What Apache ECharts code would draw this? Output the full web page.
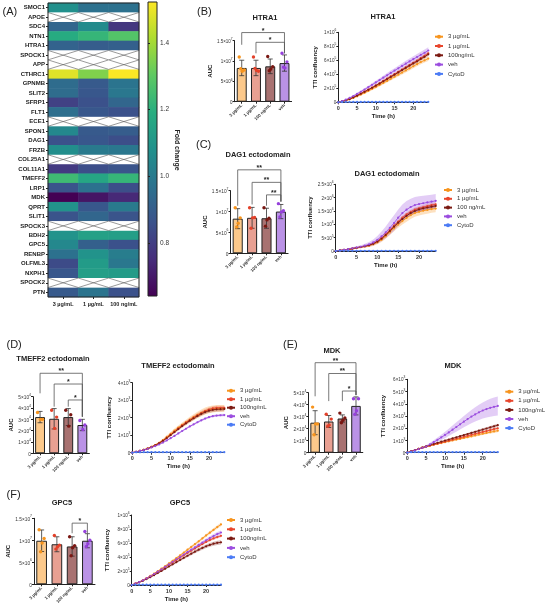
<!DOCTYPE html>
<html>
<head>
<meta charset="utf-8">
<script src="https://cdn.jsdelivr.net/npm/echarts@6/dist/echarts.min.js"></script>
<style>
html, body { margin: 0; padding: 0; background: #fff; }
#main { width: 546px; height: 609px; }
</style>
</head>
<body>
<div id="main"></div>
<script>
// ---- heatmap (A) ----
var geneNames = ['SMOC1','APOE','SDC4','NTN1','HTRA1','SPOCK1','APP','CTHRC1','GPNMB','SLIT2','SFRP1','FLT1','ECE1','SPON1','DAG1','FRZB','COL25A1','COL11A1','TMEFF2','LRP1','MDK','QPRT','SLIT1','SPOCK3','BDH2','GPC5','RENBP','OLFML3','NXPH1','SPOCK2','PTN'];
var doseLabels = ['3 µg/mL', '1 µg/mL', '100 ng/mL'];
var fold3ug   = [1.08, null, 0.93, 1.18, 0.92, null, null, 1.48, 0.95, 0.95, 0.81, 0.96, null, 1.05, 0.86, 1.07, null, 0.79, 1.24, 0.87, 0.64, 1.09, 0.87, null, 1.09, 1.05, 0.97, 0.84, 0.88, null, 0.89];
var fold1ug   = [0.97, null, 1.06, 1.22, 0.90, null, null, 1.35, 0.89, 0.88, 0.86, 0.88, null, 0.89, 0.88, 1.00, null, 0.85, 1.16, 0.97, 0.69, 0.88, 0.93, null, 1.14, 0.91, 1.09, 1.12, 1.13, null, 0.98];
var fold100ng = [0.97, null, 0.78, 1.28, 0.91, null, null, 1.52, 0.98, 0.99, 0.93, 0.86, null, 0.90, 0.85, 0.99, null, 0.87, 1.22, 0.85, 0.74, 1.00, 0.87, null, 1.13, 0.86, 1.01, 0.99, 1.12, null, 0.86];
var foldTicks = [0.8, 1.0, 1.2, 1.4];
var foldMin = 0.641, foldMax = 1.523;

// ---- bar charts (AUC) ----
var barGroups = ['3 µg/mL', '1 µg/mL', '100 ng/mL', 'veh'];
var bigAucTicks = ['0', '5×10⁶', '1×10⁷', '1.5×10⁷'];
var smallAucTicks = ['0', '1×10⁴', '2×10⁴', '3×10⁴', '4×10⁴', '5×10⁴'];

var htraMeans = [8.3, 8.3, 8.7, 9.5];
var htraSds = [1.9, 1.9, 1.8, 2.0];
var htraPts = [[11.0, 7.8, 7.5, 8.1], [11.0, 7.5, 7.7, 8.2], [11.1, 8.6, 8.0, 7.6], [11.9, 9.8, 8.3, 8.5]];
var htraSig = [[0, 3, 17.0, 14.0, 11.9], [1, 3, 14.6, 11.9, 11.9]];
var htraStars = ['*', '*'];

var dagMeans = [8.3, 8.5, 8.4, 10.0];
var dagSds = [2.4, 2.5, 2.4, 1.7];
var dagPts = [[10.9, 8.5, 7.2, 6.3], [10.9, 8.6, 8.5, 6.0], [10.9, 8.4, 8.0, 6.5], [11.9, 10.2, 9.9, 8.7]];
var dagSig = [[0, 3, 20.0, 11.4, 12.4], [1, 3, 17.0, 11.7, 12.4], [2, 3, 14.0, 11.4, 12.4]];
var dagStars = ['**', '**', '**'];

var tmeffMeans = [3.2, 3.05, 3.2, 2.5];
var tmeffSds = [0.5, 0.9, 0.75, 0.5];
var tmeffPts = [[3.6, 3.0, 3.0], [3.8, 3.2, 2.2], [3.8, 3.4, 2.4], [2.9, 2.5, 2.1]];
var tmeffSig = [[0, 3, 7.07, 5.3, 3.23], [1, 3, 6.12, 4.12, 3.23], [2, 3, 4.71, 4.12, 3.23]];
var tmeffStars = ['**', '*', '*'];

var mdkMeans = [2.5, 2.6, 2.85, 3.9];
var mdkSds = [1.0, 0.5, 0.3, 0.75];
var mdkPts = [[3.8, 2.4, 2.4, 1.5], [3.2, 2.8, 2.3, 2.2], [3.3, 2.9, 2.7, 2.5], [4.5, 4.5, 3.5, 3.2]];
var mdkSig = [[0, 3, 7.5, 4.7, 4.8], [1, 3, 6.6, 4.3, 4.8], [2, 3, 5.14, 4.3, 4.8]];
var mdkStars = ['**', '**', '*'];

var gpcMeans = [9.9, 9.1, 8.6, 9.9];
var gpcSds = [2.45, 1.7, 2.2, 1.6];
var gpcPts = [[12.4, 10.4, 9.4, 7.4], [11.1, 8.9, 8.5, 8.0], [10.8, 8.8, 8.3, 6.5], [12.0, 10.0, 9.2, 8.6]];
var gpcSig = [[2, 3, 13.9, 11.6, 11.6]];
var gpcStars = ['*'];

// ---- time courses (TTI confluency) ----
var hours = [0, 1, 2, 3, 4, 5, 6, 7, 8, 9, 10, 11, 12, 13, 14, 15, 16, 17, 18, 19, 20, 21, 22, 23, 24];
var timeTicks = [0, 5, 10, 15, 20];
var legendNames = ['3 µg/mL', '1 µg/mL', '100ng/mL', 'veh', 'CytoD'];
var legendNamesDag = ['3 µg/mL', '1 µg/mL', '100 ng/mL', 'veh', 'CytoD'];
var ttiTicksE5 = ['0', '2×10⁵', '4×10⁵', '6×10⁵', '8×10⁵', '1×10⁶'];
var ttiTicksDag = ['0', '5×10⁵', '1×10⁶', '1.5×10⁶', '2×10⁶', '2.5×10⁶'];
var ttiTicksTmeff = ['0', '1×10³', '2×10³', '3×10³', '4×10³'];
var ttiTicksMdk = ['0', '1×10³', '2×10³', '3×10³', '4×10³', '5×10³', '6×10³'];

var htra3ug = [0, 0.1, 0.24, 0.42, 0.63, 0.86, 1.1, 1.36, 1.62, 1.9, 2.18, 2.47, 2.76, 3.05, 3.35, 3.65, 3.95, 4.25, 4.55, 4.85, 5.15, 5.45, 5.75, 6.0, 6.25];
var htra3ugSd = [0, 0.04, 0.07, 0.09, 0.11, 0.13, 0.15, 0.16, 0.18, 0.19, 0.2, 0.21, 0.22, 0.23, 0.24, 0.25, 0.26, 0.27, 0.28, 0.29, 0.3, 0.31, 0.32, 0.33, 0.34];
var htra1ug = [0, 0.12, 0.28, 0.48, 0.72, 0.98, 1.25, 1.52, 1.8, 2.1, 2.4, 2.72, 3.05, 3.38, 3.7, 4.02, 4.35, 4.68, 5.0, 5.32, 5.65, 5.95, 6.3, 6.65, 7.0];
var htra1ugSd = [0, 0.03, 0.05, 0.07, 0.08, 0.1, 0.11, 0.12, 0.13, 0.14, 0.15, 0.16, 0.17, 0.18, 0.19, 0.2, 0.2, 0.21, 0.22, 0.22, 0.23, 0.24, 0.24, 0.25, 0.26];
var htra100ng = [0, 0.12, 0.27, 0.46, 0.7, 0.95, 1.22, 1.5, 1.78, 2.07, 2.37, 2.68, 3.0, 3.32, 3.63, 3.95, 4.27, 4.6, 4.92, 5.24, 5.55, 5.85, 6.2, 6.5, 6.85];
var htra100ngSd = [0, 0.03, 0.05, 0.06, 0.08, 0.09, 0.1, 0.11, 0.12, 0.13, 0.14, 0.15, 0.16, 0.17, 0.18, 0.18, 0.19, 0.2, 0.21, 0.21, 0.22, 0.23, 0.23, 0.24, 0.25];
var htraVeh = [0, 0.16, 0.37, 0.62, 0.9, 1.2, 1.51, 1.83, 2.16, 2.5, 2.84, 3.18, 3.52, 3.86, 4.2, 4.53, 4.86, 5.19, 5.52, 5.84, 6.16, 6.47, 6.78, 7.08, 7.4];
var htraVehSd = [0, 0.05, 0.08, 0.1, 0.13, 0.15, 0.17, 0.19, 0.21, 0.23, 0.25, 0.27, 0.29, 0.31, 0.33, 0.35, 0.37, 0.38, 0.4, 0.41, 0.42, 0.43, 0.44, 0.45, 0.46];
var htraCytoD = [0, 0.03, 0.04, 0.04, 0.05, 0.05, 0.05, 0.05, 0.06, 0.06, 0.06, 0.06, 0.06, 0.06, 0.06, 0.06, 0.06, 0.06, 0.06, 0.06, 0.06, 0.06, 0.06, 0.06, 0.06];

var dag3ug = [0, 0.02, 0.03, 0.05, 0.08, 0.11, 0.14, 0.17, 0.2, 0.25, 0.32, 0.42, 0.55, 0.7, 0.85, 0.99, 1.12, 1.24, 1.34, 1.42, 1.47, 1.51, 1.54, 1.57, 1.59];
var dag3ugSd = [0, 0.01, 0.01, 0.02, 0.02, 0.03, 0.03, 0.04, 0.05, 0.06, 0.07, 0.08, 0.09, 0.1, 0.11, 0.12, 0.13, 0.14, 0.14, 0.14, 0.14, 0.14, 0.14, 0.14, 0.14];
var dag1ug = [0, 0.02, 0.04, 0.06, 0.09, 0.12, 0.15, 0.18, 0.22, 0.28, 0.36, 0.48, 0.62, 0.78, 0.95, 1.1, 1.25, 1.37, 1.47, 1.55, 1.6, 1.64, 1.68, 1.72, 1.75];
var dag1ugSd = [0, 0.01, 0.01, 0.01, 0.02, 0.02, 0.02, 0.03, 0.03, 0.04, 0.04, 0.05, 0.05, 0.06, 0.06, 0.07, 0.07, 0.07, 0.08, 0.08, 0.08, 0.08, 0.08, 0.08, 0.08];
var dag100ng = [0, 0.02, 0.04, 0.06, 0.09, 0.12, 0.15, 0.18, 0.22, 0.27, 0.35, 0.46, 0.6, 0.75, 0.91, 1.06, 1.2, 1.32, 1.42, 1.5, 1.56, 1.6, 1.63, 1.66, 1.69];
var dag100ngSd = [0, 0.01, 0.01, 0.01, 0.02, 0.02, 0.02, 0.03, 0.03, 0.04, 0.04, 0.05, 0.05, 0.06, 0.06, 0.06, 0.07, 0.07, 0.07, 0.08, 0.08, 0.08, 0.08, 0.08, 0.08];
var dagVeh = [0, 0.02, 0.04, 0.07, 0.1, 0.13, 0.16, 0.2, 0.25, 0.32, 0.42, 0.55, 0.7, 0.87, 1.05, 1.25, 1.42, 1.55, 1.65, 1.72, 1.76, 1.79, 1.82, 1.85, 1.88];
var dagVehSd = [0, 0.01, 0.02, 0.03, 0.04, 0.05, 0.06, 0.07, 0.09, 0.11, 0.14, 0.18, 0.22, 0.26, 0.29, 0.31, 0.32, 0.32, 0.31, 0.3, 0.29, 0.28, 0.27, 0.26, 0.26];
var dagCytoD = [0, 0.01, 0.01, 0.01, 0.01, 0.01, 0.01, 0.01, 0.01, 0.01, 0.01, 0.01, 0.01, 0.01, 0.01, 0.01, 0.01, 0.01, 0.01, 0.01, 0.01, 0.01, 0.01, 0.01, 0.01];

var tmeff3ug = [0, 0.05, 0.1, 0.16, 0.23, 0.33, 0.44, 0.57, 0.72, 0.9, 1.08, 1.26, 1.43, 1.59, 1.74, 1.89, 2.03, 2.16, 2.28, 2.38, 2.45, 2.5, 2.52, 2.52, 2.52];
var tmeff3ugSd = [0, 0.01, 0.02, 0.03, 0.04, 0.05, 0.06, 0.07, 0.08, 0.1, 0.11, 0.12, 0.13, 0.14, 0.15, 0.16, 0.17, 0.18, 0.19, 0.2, 0.2, 0.2, 0.2, 0.2, 0.2];
var tmeff1ug = [0, 0.05, 0.1, 0.16, 0.23, 0.33, 0.43, 0.55, 0.69, 0.86, 1.03, 1.21, 1.39, 1.56, 1.72, 1.87, 2.01, 2.14, 2.27, 2.38, 2.47, 2.53, 2.56, 2.57, 2.57];
var tmeff1ugSd = [0, 0.01, 0.02, 0.02, 0.03, 0.04, 0.04, 0.05, 0.06, 0.07, 0.07, 0.08, 0.09, 0.09, 0.1, 0.1, 0.11, 0.11, 0.12, 0.12, 0.12, 0.12, 0.12, 0.12, 0.12];
var tmeff100ng = [0, 0.05, 0.1, 0.16, 0.23, 0.32, 0.42, 0.54, 0.68, 0.84, 1.01, 1.18, 1.35, 1.52, 1.68, 1.83, 1.97, 2.1, 2.22, 2.32, 2.4, 2.45, 2.48, 2.49, 2.5];
var tmeff100ngSd = [0, 0.01, 0.02, 0.02, 0.03, 0.03, 0.04, 0.05, 0.05, 0.06, 0.07, 0.07, 0.08, 0.08, 0.09, 0.09, 0.1, 0.1, 0.11, 0.11, 0.11, 0.12, 0.12, 0.12, 0.12];
var tmeffVeh = [0, 0.05, 0.1, 0.15, 0.22, 0.3, 0.38, 0.47, 0.58, 0.7, 0.83, 0.96, 1.1, 1.24, 1.37, 1.5, 1.62, 1.74, 1.85, 1.95, 2.03, 2.09, 2.12, 2.14, 2.15];
var tmeffVehSd = [0, 0.01, 0.01, 0.02, 0.02, 0.02, 0.03, 0.03, 0.03, 0.04, 0.04, 0.04, 0.05, 0.05, 0.05, 0.05, 0.06, 0.06, 0.06, 0.06, 0.06, 0.07, 0.07, 0.07, 0.07];
var tmeffCytoD = [0, 0.02, 0.02, 0.03, 0.03, 0.03, 0.03, 0.03, 0.03, 0.03, 0.03, 0.03, 0.03, 0.03, 0.03, 0.03, 0.03, 0.03, 0.03, 0.03, 0.03, 0.03, 0.03, 0.03, 0.03];

var mdk3ug = [0, 0.11, 0.21, 0.31, 0.41, 0.5, 0.57, 0.65, 0.72, 0.79, 0.86, 0.93, 1.0, 1.07, 1.13, 1.2, 1.27, 1.34, 1.41, 1.48, 1.55, 1.61, 1.68, 1.74, 1.8];
var mdk3ugSd = [0, 0.01, 0.02, 0.02, 0.03, 0.03, 0.04, 0.04, 0.05, 0.05, 0.06, 0.06, 0.07, 0.07, 0.08, 0.08, 0.09, 0.09, 0.1, 0.1, 0.11, 0.11, 0.12, 0.12, 0.12];
var mdk1ug = [0, 0.11, 0.21, 0.31, 0.41, 0.5, 0.58, 0.66, 0.74, 0.82, 0.9, 0.98, 1.06, 1.14, 1.22, 1.3, 1.38, 1.46, 1.54, 1.62, 1.7, 1.77, 1.85, 1.93, 2.0];
var mdk1ugSd = [0, 0.01, 0.02, 0.02, 0.03, 0.03, 0.03, 0.04, 0.04, 0.05, 0.05, 0.06, 0.06, 0.07, 0.07, 0.08, 0.08, 0.08, 0.09, 0.09, 0.1, 0.1, 0.1, 0.11, 0.11];
var mdk100ng = [0, 0.11, 0.21, 0.31, 0.41, 0.51, 0.61, 0.71, 0.8, 0.9, 0.99, 1.08, 1.17, 1.26, 1.35, 1.44, 1.53, 1.62, 1.71, 1.8, 1.89, 1.98, 2.07, 2.16, 2.25];
var mdk100ngSd = [0, 0.01, 0.02, 0.02, 0.03, 0.03, 0.04, 0.04, 0.05, 0.05, 0.06, 0.06, 0.07, 0.07, 0.08, 0.08, 0.08, 0.09, 0.09, 0.1, 0.1, 0.11, 0.11, 0.12, 0.12];
var mdkVeh = [0, 0.1, 0.2, 0.3, 0.4, 0.5, 0.68, 0.86, 1.05, 1.25, 1.45, 1.66, 1.88, 2.1, 2.32, 2.54, 2.75, 2.95, 3.13, 3.3, 3.45, 3.57, 3.67, 3.75, 3.82];
var mdkVehSd = [0, 0.02, 0.04, 0.06, 0.08, 0.1, 0.13, 0.16, 0.19, 0.22, 0.26, 0.3, 0.34, 0.38, 0.42, 0.46, 0.5, 0.54, 0.58, 0.62, 0.66, 0.7, 0.73, 0.76, 0.78];
var mdkCytoD = [0, 0.04, 0.05, 0.05, 0.05, 0.05, 0.05, 0.05, 0.05, 0.05, 0.05, 0.05, 0.05, 0.05, 0.05, 0.05, 0.05, 0.05, 0.05, 0.05, 0.05, 0.05, 0.05, 0.05, 0.05];

var gpc3ug = [0, 0.2, 0.42, 0.68, 0.98, 1.3, 1.64, 1.98, 2.33, 2.7, 3.08, 3.46, 3.85, 4.24, 4.64, 5.04, 5.44, 5.84, 6.24, 6.66, 7.08, 7.48, 7.88, 8.28, 8.65];
var gpc3ugSd = [0, 0.02, 0.04, 0.05, 0.06, 0.07, 0.08, 0.09, 0.1, 0.11, 0.12, 0.13, 0.14, 0.15, 0.16, 0.17, 0.18, 0.19, 0.2, 0.21, 0.22, 0.23, 0.24, 0.25, 0.25];
var gpc1ug = [0, 0.2, 0.42, 0.67, 0.95, 1.25, 1.56, 1.88, 2.2, 2.54, 2.88, 3.22, 3.56, 3.9, 4.24, 4.58, 4.9, 5.22, 5.54, 5.85, 6.15, 6.42, 6.65, 6.85, 7.02];
var gpc1ugSd = [0, 0.02, 0.03, 0.04, 0.05, 0.06, 0.07, 0.08, 0.09, 0.1, 0.11, 0.12, 0.12, 0.13, 0.14, 0.15, 0.15, 0.16, 0.17, 0.17, 0.18, 0.19, 0.19, 0.2, 0.2];
var gpc100ng = [0, 0.18, 0.38, 0.6, 0.85, 1.12, 1.4, 1.7, 2.0, 2.32, 2.64, 2.95, 3.26, 3.57, 3.88, 4.18, 4.47, 4.76, 5.04, 5.3, 5.53, 5.73, 5.9, 6.02, 6.1];
var gpc100ngSd = [0, 0.02, 0.04, 0.05, 0.07, 0.08, 0.09, 0.11, 0.12, 0.13, 0.14, 0.16, 0.17, 0.18, 0.19, 0.2, 0.21, 0.23, 0.24, 0.25, 0.26, 0.27, 0.28, 0.29, 0.3];
var gpcVeh = [0, 0.2, 0.42, 0.67, 0.95, 1.25, 1.57, 1.9, 2.24, 2.6, 2.96, 3.32, 3.68, 4.02, 4.36, 4.7, 5.04, 5.38, 5.72, 6.05, 6.38, 6.7, 7.0, 7.27, 7.5];
var gpcVehSd = [0, 0.02, 0.04, 0.05, 0.07, 0.08, 0.09, 0.11, 0.12, 0.13, 0.14, 0.16, 0.17, 0.18, 0.19, 0.2, 0.21, 0.23, 0.24, 0.25, 0.26, 0.27, 0.28, 0.29, 0.3];
var gpcCytoD = [0, 0.03, 0.04, 0.04, 0.04, 0.04, 0.04, 0.04, 0.04, 0.04, 0.04, 0.04, 0.04, 0.04, 0.04, 0.04, 0.04, 0.04, 0.04, 0.04, 0.04, 0.04, 0.04, 0.04, 0.04];

// ---- styles ----
var font = '"Liberation Sans", Arial, sans-serif';
var viridis = ['#440154', '#472d7b', '#3b528b', '#2c728e', '#21918c', '#28ae80', '#5ec962', '#addc30', '#fde725'];
var lineColors = ['#F7941D', '#E8452C', '#7B1A12', '#9B4DDF', '#4B7BF5'];
var barFill = ['#FCC98B', '#E8A092', '#A87271', '#BA92E6'];
var pointColors = ['#F7941D', '#E3412A', '#7A1712', '#9640DC'];
var jitter = [-2.5, 2.5, 0.5, -1, 1.5];
var supDigits = '⁰¹²³⁴⁵⁶⁷⁸⁹';

var grids = [], xAxes = [], yAxes = [], series = [], legends = [], graphics = [];

function txt(x, y, text, size, weight, align, rot) {
  graphics.push({
    type: 'text', x: x, y: y, rotation: rot || 0, silent: true,
    style: { text: text, font: weight + ' ' + size + 'px ' + font, fill: '#222',
      textAlign: align || 'center', align: align || 'center', textVerticalAlign: 'middle', verticalAlign: 'middle' }
  });
}

// turns '5×10⁶' into rich text with a raised exponent
function sciRich(label) {
  var m = label.match(/^(.*×10)([⁰¹²³⁴⁵⁶⁷⁸⁹]+)$/);
  if (!m) return '{b|' + label + '}';
  var exp = m[2].split('').map(function (c) { return supDigits.indexOf(c); }).join('');
  return '{b|' + m[1] + '}{e|' + exp + '}';
}
function richStyle(size) {
  return {
    b: { fontSize: size, lineHeight: size + 2, verticalAlign: 'bottom', color: '#333', fontFamily: font },
    e: { fontSize: size * 0.72, lineHeight: size * 0.8, verticalAlign: 'top', color: '#333', fontFamily: font }
  };
}
function tickFmt(ticks, step) {
  return function (v) { var i = Math.round(v / step); return ticks[i] !== undefined ? sciRich(ticks[i]) : ''; };
}

// heatmap
var hmData = [], nanData = [];
[fold3ug, fold1ug, fold100ng].forEach(function (col, ci) {
  col.forEach(function (v, ri) {
    if (v === null) nanData.push([ci, ri]); else hmData.push([ci, ri, v]);
  });
});
grids.push({ left: 48, top: 3, width: 91, height: 294, show: true, borderColor: '#222', borderWidth: 1, backgroundColor: 'transparent', z: 10 });
xAxes.push({ type: 'category', gridIndex: 0, data: doseLabels, axisLine: { show: false },
  axisTick: { show: true, alignWithLabel: true, length: 2, lineStyle: { color: '#222' } },
  axisLabel: { interval: 0, hideOverlap: false, fontSize: 5.5, fontWeight: 'bold', color: '#222', margin: 4, fontFamily: font } });
yAxes.push({ type: 'category', gridIndex: 0, data: geneNames, inverse: true, axisLine: { show: false },
  axisTick: { show: true, alignWithLabel: true, interval: 0, length: 2, lineStyle: { color: '#222' } },
  axisLabel: { interval: 0, hideOverlap: false, fontSize: 6, fontWeight: 'bold', color: '#222', margin: 3, fontFamily: font } });
series.push({ type: 'heatmap', xAxisIndex: 0, yAxisIndex: 0, data: hmData, silent: true, itemStyle: { borderWidth: 0 } });
series.push({ type: 'custom', xAxisIndex: 0, yAxisIndex: 0, data: nanData, silent: true,
  renderItem: function (params, api) {
    var c = api.coord([api.value(0), api.value(1)]);
    var s = api.size([1, 1]);
    var x0 = c[0] - s[0] / 2, y0 = c[1] - s[1] / 2, x1 = c[0] + s[0] / 2, y1 = c[1] + s[1] / 2;
    return { type: 'group', children: [
      { type: 'rect', shape: { x: x0, y: y0, width: s[0], height: s[1] }, style: { fill: '#fff' } },
      { type: 'line', shape: { x1: x0, y1: y0, x2: x1, y2: y1 }, style: { stroke: '#555', lineWidth: 0.6 } },
      { type: 'line', shape: { x1: x0, y1: y1, x2: x1, y2: y0 }, style: { stroke: '#555', lineWidth: 0.6 } }
    ] };
  } });

// colour bar axis
grids.push({ left: 148, top: 2, width: 9, height: 294 });
xAxes.push({ type: 'value', gridIndex: 1, show: false });
yAxes.push({ type: 'value', gridIndex: 1, position: 'right', min: foldMin, max: foldMax,
  axisLine: { show: false }, splitLine: { show: false },
  axisTick: { show: true, length: 2, customValues: foldTicks, lineStyle: { color: '#222' } },
  axisLabel: { customValues: foldTicks, formatter: function (v) { return v.toFixed(1); }, fontSize: 6.5, color: '#333', margin: 3, fontFamily: font } });
series.push({ type: 'scatter', xAxisIndex: 1, yAxisIndex: 1, data: [] });
graphics.push({ type: 'rect', x: 148, y: 2, shape: { width: 9, height: 294 }, silent: true,
  style: { stroke: '#222', lineWidth: 1, fill: { type: 'linear', x: 0, y: 0, x2: 0, y2: 1,
    colorStops: viridis.slice().reverse().map(function (c, i) { return { offset: i / (viridis.length - 1), color: c }; }) } } });
txt(177, 150, 'Fold change', 7, 'bold', 'center', -Math.PI / 2);

function addBarPanel(box, max, step, ticks, means, sds, pts, sig, stars, nameGap, labelSize) {
  var gi = grids.length;
  grids.push({ left: box[0], top: box[1], width: box[2], height: box[3] });
  xAxes.push({ type: 'category', gridIndex: gi, data: barGroups,
    axisLine: { lineStyle: { color: '#222', width: 1 } },
    axisTick: { show: true, alignWithLabel: true, length: 2, lineStyle: { color: '#222' } },
    axisLabel: { interval: 0, hideOverlap: false, rotate: 45, fontSize: 4.3, fontWeight: 'bold', color: '#333', margin: 3, fontFamily: font } });
  yAxes.push({ type: 'value', gridIndex: gi, min: 0, max: max, interval: step, splitLine: { show: false },
    axisLine: { show: true, lineStyle: { color: '#222' } },
    axisTick: { show: true, length: 2, lineStyle: { color: '#222' } },
    axisLabel: { margin: 2, formatter: tickFmt(ticks, step), rich: richStyle(labelSize) },
    name: 'AUC', nameLocation: 'middle', nameGap: nameGap,
    nameTextStyle: { fontSize: 6, fontWeight: 'bold', color: '#222', fontFamily: font } });
  series.push({ type: 'bar', xAxisIndex: gi, yAxisIndex: gi, barWidth: '70%', silent: true, z: 2,
    data: means.map(function (m, i) { return { value: m, itemStyle: { color: barFill[i] } }; }),
    itemStyle: { borderColor: '#222', borderWidth: 1 } });
  series.push({ type: 'custom', xAxisIndex: gi, yAxisIndex: gi, silent: true, z: 3,
    data: means.map(function (m, i) { return [i, m - sds[i], m + sds[i]]; }),
    renderItem: function (params, api) {
      var lo = api.coord([api.value(0), api.value(1)]), hi = api.coord([api.value(0), api.value(2)]);
      var w = 2.5, st = { stroke: '#333', lineWidth: 0.8 };
      return { type: 'group', children: [
        { type: 'line', shape: { x1: lo[0], y1: lo[1], x2: hi[0], y2: hi[1] }, style: st },
        { type: 'line', shape: { x1: hi[0] - w, y1: hi[1], x2: hi[0] + w, y2: hi[1] }, style: st },
        { type: 'line', shape: { x1: lo[0] - w, y1: lo[1], x2: lo[0] + w, y2: lo[1] }, style: st }
      ] };
    } });
  var ptData = [];
  pts.forEach(function (arr, i) { arr.forEach(function (v, j) { ptData.push([i, v, j]); }); });
  series.push({ type: 'custom', xAxisIndex: gi, yAxisIndex: gi, silent: true, z: 4, data: ptData,
    renderItem: function (params, api) {
      var c = api.coord([api.value(0), api.value(1)]);
      return { type: 'circle', shape: { cx: c[0] + jitter[api.value(2) % jitter.length], cy: c[1], r: 1.7 },
        style: { fill: pointColors[api.value(0)] } };
    } });
  series.push({ type: 'custom', xAxisIndex: gi, yAxisIndex: gi, silent: true, z: 5, clip: false, data: sig,
    renderItem: function (params, api) {
      var a = api.coord([api.value(0), api.value(2)]), b = api.coord([api.value(1), api.value(2)]);
      var la = api.coord([api.value(0), api.value(3)]), rb = api.coord([api.value(1), api.value(4)]);
      return { type: 'group', children: [
        { type: 'polyline', shape: { points: [la, a, b, rb] }, style: { stroke: '#555', lineWidth: 0.8, fill: null } },
        { type: 'text', x: (a[0] + b[0]) / 2, y: a[1] + 1.5,
          style: { text: stars[params.dataIndex], font: 'bold 7px ' + font, fill: '#222',
            textAlign: 'center', align: 'center', textVerticalAlign: 'bottom', verticalAlign: 'bottom' } }
      ] };
    } });
}

function addLinePanel(box, max, step, ticks, names, means, sds, legendBox, nameGap) {
  var gi = grids.length;
  grids.push({ left: box[0], top: box[1], width: box[2], height: box[3] });
  xAxes.push({ type: 'value', gridIndex: gi, min: 0, max: 24, splitLine: { show: false },
    axisLine: { lineStyle: { color: '#222' } },
    axisTick: { show: true, length: 2, customValues: timeTicks, lineStyle: { color: '#222' } },
    axisLabel: { customValues: timeTicks, fontSize: 5.5, fontWeight: 'bold', color: '#333', margin: 3, fontFamily: font },
    name: 'Time (h)', nameLocation: 'middle', nameGap: 11,
    nameTextStyle: { fontSize: 6, fontWeight: 'bold', color: '#222', fontFamily: font } });
  yAxes.push({ type: 'value', gridIndex: gi, min: 0, max: max, interval: step, splitLine: { show: false },
    axisLine: { show: true, lineStyle: { color: '#222' } },
    axisTick: { show: true, length: 2, lineStyle: { color: '#222' } },
    axisLabel: { margin: 2, formatter: tickFmt(ticks, step), rich: richStyle(4.6) },
    name: 'TTI confluency', nameLocation: 'middle', nameGap: nameGap,
    nameTextStyle: { fontSize: 6, fontWeight: 'bold', color: '#222', fontFamily: font } });
  for (var k = 0; k < 4; k++) {
    (function (mean, sd, color) {
      series.push({ type: 'custom', name: 'band', xAxisIndex: gi, yAxisIndex: gi, silent: true, z: 1, data: [[0, 0]],
        renderItem: function (params, api) {
          var upper = [], lower = [];
          for (var i = 0; i < hours.length; i++) {
            upper.push(api.coord([hours[i], mean[i] + sd[i]]));
            lower.unshift(api.coord([hours[i], Math.max(0, mean[i] - sd[i])]));
          }
          return { type: 'polygon', shape: { points: upper.concat(lower) }, style: { fill: color, opacity: 0.28 } };
        } });
    })(means[k], sds[k], lineColors[k]);
  }
  for (var s = 0; s < 5; s++) {
    series.push({ type: 'line', name: names[s], xAxisIndex: gi, yAxisIndex: gi, silent: true, z: s === 4 ? 4 : 3,
      data: hours.map(function (h, i) { return [h, means[s][i]]; }),
      symbol: 'circle', symbolSize: 2.2, showSymbol: true,
      lineStyle: { color: lineColors[s], width: 0.9 }, itemStyle: { color: lineColors[s] } });
  }
  legends.push({ left: legendBox[0], top: legendBox[1], orient: 'vertical', padding: 0, itemGap: legendBox[2],
    itemWidth: 8, itemHeight: 5, data: names, selectedMode: false,
    textStyle: { fontSize: 6, color: '#333', lineHeight: 7, fontFamily: font } });
}

// (B) HTRA1
addBarPanel([234.6, 40.7, 57, 61], 15, 5, bigAucTicks, htraMeans, htraSds, htraPts, htraSig, htraStars, 14, 4.5);
addLinePanel([338.3, 32.3, 90, 70], 10, 2, ttiTicksE5, legendNames,
  [htra3ug, htra1ug, htra100ng, htraVeh, htraCytoD], [htra3ugSd, htra1ugSd, htra100ngSd, htraVehSd], [434, 33.2, 2.3], 20);
// (C) DAG1
addBarPanel([230.5, 190.7, 57.6, 62.6], 15, 5, bigAucTicks, dagMeans, dagSds, dagPts, dagSig, dagStars, 19, 4.8);
addLinePanel([335.7, 184.3, 100, 66.7], 2.5, 0.5, ttiTicksDag, legendNamesDag,
  [dag3ug, dag1ug, dag100ng, dagVeh, dagCytoD], [dag3ugSd, dag1ugSd, dag100ngSd, dagVehSd], [443, 186.5, 1.8], 22);
// (D) TMEFF2
addBarPanel([33, 396.7, 56.4, 56.6], 5, 1, smallAucTicks, tmeffMeans, tmeffSds, tmeffPts, tmeffSig, tmeffStars, 11, 4.8);
addLinePanel([132.3, 382.7, 92, 70], 4, 1, ttiTicksTmeff, legendNames,
  [tmeff3ug, tmeff1ug, tmeff100ng, tmeffVeh, tmeffCytoD], [tmeff3ugSd, tmeff1ugSd, tmeff100ngSd, tmeffVehSd], [226, 387.2, 1.5], 20);
// (E) MDK
addBarPanel([308.3, 392.7, 54.5, 60], 5, 1, smallAucTicks, mdkMeans, mdkSds, mdkPts, mdkSig, mdkStars, 14, 4.8);
addLinePanel([407.3, 379.3, 90.5, 73.4], 6, 1, ttiTicksMdk, legendNames,
  [mdk3ug, mdk1ug, mdk100ng, mdkVeh, mdkCytoD], [mdk3ugSd, mdk1ugSd, mdk100ngSd, mdkVehSd], [504.3, 388.2, 2.1], 21);
// (F) GPC5
addBarPanel([34, 518.3, 61, 66], 15, 5, bigAucTicks, gpcMeans, gpcSds, gpcPts, gpcSig, gpcStars, 10.5, 4.8);
addLinePanel([131.7, 515, 89.3, 70], 10, 2, ttiTicksE5, legendNames,
  [gpc3ug, gpc1ug, gpc100ng, gpcVeh, gpcCytoD], [gpc3ugSd, gpc1ugSd, gpc100ngSd, gpcVehSd], [226, 516.5, 2.3], 21);

// titles and panel letters
txt(265, 18, 'HTRA1', 7.5, 'bold');
txt(383, 17, 'HTRA1', 7.5, 'bold');
txt(258, 155, 'DAG1 ectodomain', 7.5, 'bold');
txt(387, 174, 'DAG1 ectodomain', 7.5, 'bold');
txt(53, 359, 'TMEFF2 ectodomain', 7.5, 'bold');
txt(178, 366, 'TMEFF2 ectodomain', 7.5, 'bold');
txt(332, 351, 'MDK', 7.5, 'bold');
txt(453, 366, 'MDK', 7.5, 'bold');
txt(62, 503, 'GPC5', 7.5, 'bold');
txt(180, 503, 'GPC5', 7.5, 'bold');
txt(2.5, 12, '(A)', 11, 'normal', 'left');
txt(197, 12, '(B)', 11, 'normal', 'left');
txt(196, 145, '(C)', 11, 'normal', 'left');
txt(6.5, 345, '(D)', 11, 'normal', 'left');
txt(283, 345, '(E)', 11, 'normal', 'left');
txt(6.5, 495, '(F)', 11, 'normal', 'left');

var chart = echarts.init(document.getElementById('main'), null, { renderer: 'canvas' });
chart.setOption({
  animation: false,
  backgroundColor: '#fff',
  textStyle: { fontFamily: font },
  visualMap: { show: false, seriesIndex: 0, dimension: 2, min: foldMin, max: foldMax, inRange: { color: viridis } },
  grid: grids,
  xAxis: xAxes,
  yAxis: yAxes,
  legend: legends,
  series: series,
  graphic: graphics
});
</script>
</body>
</html>
